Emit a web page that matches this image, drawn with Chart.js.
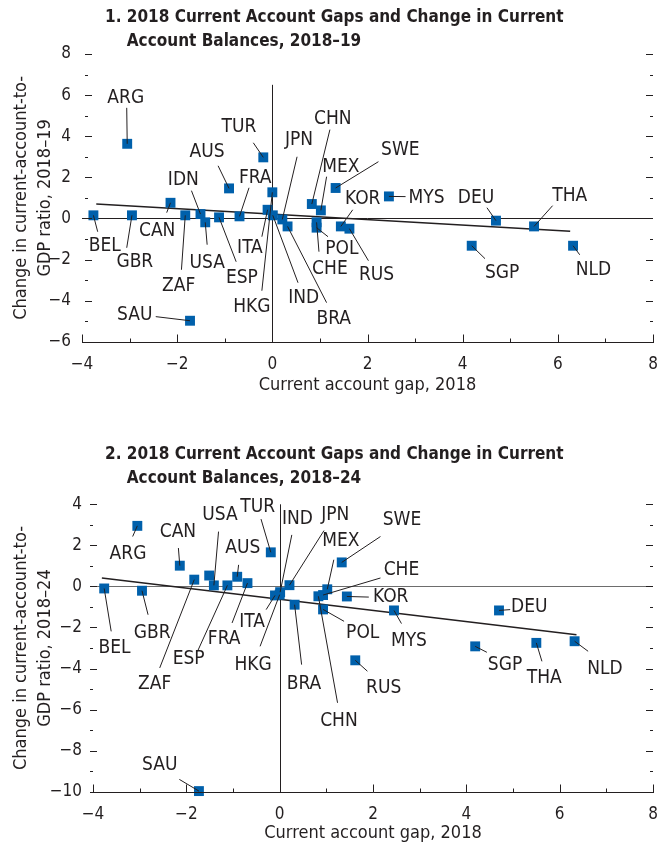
<!DOCTYPE html>
<html>
<head>
<meta charset="utf-8">
<script src="https://cdn.jsdelivr.net/npm/chart.js@4.4.0/dist/chart.umd.min.js"></script>
<style>
  html, body { margin: 0; padding: 0; background: #fff; }
  .panel { width: 660px; height: 425px; }
  canvas { display: block; }
</style>
</head>
<body>
<div class="panel"><canvas id="chart1" width="660" height="425"></canvas></div>
<div class="panel"><canvas id="chart2" width="660" height="425"></canvas></div>
<script>
// --- data ---
const countries = ['ARG','AUS','BEL','BRA','CAN','CHE','CHN','DEU','ESP','FRA','GBR','HKG','IDN','IND','ITA',
                   'JPN','KOR','MEX','MYS','NLD','POL','RUS','SAU','SGP','SWE','THA','TUR','USA','ZAF'];
// current account gap, 2018 (x, same in both panels)
const gap2018 = [-3.05, -0.91, -3.76, 0.32, -2.14, 0.93, 0.83, 4.70, -1.12, -0.69, -2.95, 0.00, -1.51, 0.01, -0.10,
                 0.21, 1.44, 1.02, 2.45, 6.32, 0.93, 1.62, -1.73, 4.19, 1.33, 5.50, -0.19, -1.41, -1.83];
// change in CA/GDP, 2018-19
const change1819 = [3.63, 1.46, 0.15, -0.39, 0.76, -0.19, 0.70, -0.11, 0.05, 0.10, 0.15, 1.27, 0.21, 0.15, 0.42,
                    -0.05, -0.39, 0.39, 1.07, -1.33, -0.45, -0.50, -4.98, -1.33, 1.48, -0.39, 2.97, -0.19, 0.15];
// change in CA/GDP, 2018-24
const change1824 = [2.95, 0.47, -0.10, -0.89, 1.01, -0.42, -0.48, -1.17, 0.05, 0.16, -0.21, -0.40, 0.53, -0.28, -0.44,
                    0.06, -0.49, -0.14, -1.17, -2.67, -1.12, -3.60, -9.97, -2.92, 1.17, -2.75, 1.66, 0.05, 0.33];
// fitted lines (end points)
const fitX1819 = [-3.70, 6.26];
const fitY1819 = [0.70, -0.63];
const fitX1824 = [-3.81, 6.36];
const fitY1824 = [0.41, -2.35];

// label placement: [labelX, labelY, leaderX, leaderY] in data units
const labelSpots1819 = {
  ARG: [-3.08, 5.87, -3.06, 5.38], TUR: [-0.70, 4.46, -0.40, 3.68], AUS: [-1.37, 3.25, -1.14, 2.56],
  IDN: [-1.87, 1.88, -1.70, 1.35], FRA: [-0.36, 1.98, -0.49, 1.49], JPN: [0.56, 3.83, 0.52, 3.00],
  CHN: [1.27, 4.85, 1.21, 4.32], MEX: [1.44, 2.52, 1.14, 2.03], SWE: [2.69, 3.34, 2.23, 2.76],
  KOR: [1.90, 0.96, 1.69, 0.42], MYS: [3.24, 1.01, 2.80, 1.06], DEU: [4.28, 1.01, 4.51, 0.52],
  THA: [6.25, 1.10, 5.89, 0.62], NLD: [6.75, -2.50, 6.46, -1.77], SGP: [4.83, -2.64, 4.47, -1.96],
  RUS: [2.19, -2.74, 2.02, -2.06], POL: [1.46, -1.47, 1.17, -0.89], CHE: [1.21, -2.45, 0.98, -1.62],
  BRA: [1.29, -4.88, 1.14, -4.10], IND: [0.66, -3.86, 0.54, -3.13], HKG: [-0.43, -4.30, -0.22, -3.52],
  ITA: [-0.47, -1.43, -0.22, -0.89], ESP: [-0.64, -2.89, -0.76, -2.11], USA: [-1.37, -2.16, -1.37, -1.28],
  ZAF: [-1.97, -3.30, -1.91, -2.50], CAN: [-2.42, -0.60, -2.22, 0.28], GBR: [-2.89, -2.11, -3.06, -1.43],
  BEL: [-3.52, -1.33, -3.67, -0.65], SAU: [-2.89, -4.69, -2.45, -4.78]
};
const labelSpots1824 = {
  ARG: [-3.25, 1.59, -3.15, 2.43], CAN: [-2.18, 2.63, -2.17, 1.87], USA: [-1.28, 3.49, -1.31, 2.67],
  TUR: [-0.47, 3.86, -0.40, 3.28], AUS: [-0.79, 1.87, -0.88, 1.05], IND: [0.38, 3.28, 0.26, 2.51],
  JPN: [1.19, 3.49, 0.95, 2.72], MEX: [1.31, 2.19, 1.16, 1.30], SWE: [2.62, 3.24, 2.16, 2.43],
  CHE: [2.61, 0.78, 2.16, 0.41], KOR: [2.38, -0.52, 1.91, -0.52], DEU: [5.35, -1.00, 4.94, -1.13],
  POL: [1.78, -2.27, 1.38, -1.70], MYS: [2.77, -2.67, 2.61, -1.81], BRA: [0.52, -4.78, 0.47, -3.81],
  RUS: [2.23, -4.94, 1.88, -4.13], CHN: [1.27, -6.56, 1.24, -5.67], SGP: [4.83, -3.81, 4.44, -3.21],
  THA: [5.67, -4.45, 5.62, -3.65], NLD: [6.97, -4.02, 6.61, -3.16], BEL: [-3.54, -3.00, -3.61, -2.19],
  GBR: [-2.73, -2.27, -2.82, -1.38], ESP: [-1.95, -3.53, -1.76, -3.16], ZAF: [-2.68, -4.78, -2.57, -3.97],
  FRA: [-1.19, -2.56, -1.02, -1.78], ITA: [-0.59, -1.75, -0.29, -1.13], HKG: [-0.57, -3.81, -0.42, -2.92],
  SAU: [-2.57, -8.72, -2.15, -9.40]
};

const FONT = '"Liberation Sans Narrow", "DejaVu Sans Condensed", "Arial Narrow", sans-serif';
const INK = '#231f20';
const BLUE = '#0060ab';

const fmt = v => (v < 0 ? '\u2212' + Math.abs(v) : String(v));

// draws zero lines, inward ticks, titles and the country labels
const decorPlugin = {
  id: 'decor',
  beforeDatasetsDraw(chart, args, o) {
    const ctx = chart.ctx, xs = chart.scales.x, ys = chart.scales.y, a = chart.chartArea;
    ctx.save();
    ctx.lineWidth = 1;
    // horizontal zero line
    ctx.strokeStyle = o.zeroColor;
    ctx.beginPath();
    const y0 = Math.round(ys.getPixelForValue(0)) + 0.5;
    ctx.moveTo(a.left, y0); ctx.lineTo(a.right, y0);
    ctx.stroke();
    // vertical zero line
    ctx.strokeStyle = INK;
    const x0 = Math.round(xs.getPixelForValue(0)) + 0.5;
    ctx.beginPath();
    ctx.moveTo(x0, ys.getPixelForValue(o.vTop)); ctx.lineTo(x0, a.bottom);
    ctx.stroke();
    ctx.restore();
  },
  afterDatasetsDraw(chart, args, o) {
    const ctx = chart.ctx, xs = chart.scales.x, ys = chart.scales.y, a = chart.chartArea;
    ctx.save();
    ctx.strokeStyle = INK;
    ctx.lineWidth = 1;

    // bottom axis line + upward ticks
    const yb = Math.round(a.bottom) + 0.5;
    ctx.beginPath();
    ctx.moveTo(a.left, yb); ctx.lineTo(a.right + 1, yb);
    for (let v = xs.min; v <= xs.max; v++) {
      const px = Math.round(xs.getPixelForValue(v)) + 0.5;
      ctx.moveTo(px, yb); ctx.lineTo(px, yb - (v % 2 === 0 ? 8 : 4));
    }
    // left and right inward ticks
    for (let v = ys.min; v <= ys.max; v++) {
      const py = Math.round(ys.getPixelForValue(v)) + 0.5;
      const len = v % 2 === 0 ? 7 : 3;
      ctx.moveTo(a.left + o.leftInset, py); ctx.lineTo(a.left + o.leftInset + len, py);
      ctx.moveTo(a.right, py); ctx.lineTo(a.right - len, py);
    }
    ctx.stroke();

    // country labels with leader lines
    ctx.fillStyle = INK;
    ctx.font = '19px ' + FONT;
    ctx.textAlign = 'center';
    ctx.textBaseline = 'middle';
    countries.forEach((c, i) => {
      const spot = o.spots[c];
      if (!spot) return;
      const px = xs.getPixelForValue(gap2018[i]);
      const py = ys.getPixelForValue(o.values[i]);
      ctx.beginPath();
      ctx.moveTo(xs.getPixelForValue(spot[2]), ys.getPixelForValue(spot[3]));
      ctx.lineTo(px, py);
      ctx.stroke();
      ctx.fillText(c, xs.getPixelForValue(spot[0]), ys.getPixelForValue(spot[1]));
    });

    // panel title with hanging indent
    ctx.textAlign = 'left';
    ctx.font = 'bold 17px ' + FONT;
    const num = o.title[0];
    ctx.fillText(num + ' ' + o.title[1], o.titleX, o.titleY);
    const indent = ctx.measureText(num + ' ').width;
    ctx.fillText(o.title[2], o.titleX + indent, o.titleY + 24);

    // axis titles
    ctx.font = '18px ' + FONT;
    ctx.textAlign = 'center';
    ctx.fillText('Current account gap, 2018', (a.left + a.right) / 2, o.xTitleY);
    const cy = (a.top + a.bottom) / 2;
    ctx.save();
    ctx.translate(21, cy);
    ctx.rotate(-Math.PI / 2);
    ctx.fillText('Change in current-account-to-', 0, 0);
    ctx.fillText(o.yTitle2, 0, 24);
    ctx.restore();

    ctx.restore();
  }
};

function makePanel(id, cfg) {
  const points = countries.map((c, i) => ({ x: gap2018[i], y: cfg.values[i] }));
  const fit = cfg.fitX.map((x, i) => ({ x, y: cfg.fitY[i] }));
  return new Chart(document.getElementById(id), {
    type: 'scatter',
    data: {
      datasets: [
        {
          data: points,
          pointStyle: 'rect',
          pointRadius: 7,
          pointHoverRadius: 7,
          backgroundColor: BLUE,
          borderWidth: 0,
          clip: false
        },
        {
          data: fit,
          showLine: true,
          borderColor: INK,
          borderWidth: 1.5,
          pointRadius: 0,
          fill: false
        }
      ]
    },
    options: {
      responsive: false,
      animation: false,
      layout: { padding: { top: cfg.padTop, right: cfg.padRight, left: 0, bottom: 0 } },
      scales: {
        x: {
          type: 'linear',
          min: -4, max: 8,
          grid: { display: false },
          border: { display: false },
          ticks: {
            stepSize: 1,
            autoSkip: false,
            maxRotation: 0,
            padding: 5,
            color: INK,
            font: { family: FONT, size: 17 },
            callback: v => (Math.round(v) % 2 === 0 ? fmt(Math.round(v)) : '')
          },
          afterFit: s => { s.height = cfg.xHeight; s.paddingLeft = 0; s.paddingRight = 0; }
        },
        y: {
          type: 'linear',
          min: cfg.yMin, max: cfg.yMax,
          grid: { display: false },
          border: { display: false },
          ticks: {
            stepSize: 1,
            autoSkip: false,
            padding: 3,
            color: INK,
            font: { family: FONT, size: 17 },
            callback: v => (Math.round(v) % 2 === 0 ? fmt(Math.round(v)) : '')
          },
          afterFit: s => { s.width = cfg.yWidth; s.paddingTop = 0; s.paddingBottom = 0; }
        }
      },
      plugins: {
        legend: { display: false },
        tooltip: { enabled: false },
        decor: {
          spots: cfg.spots,
          values: cfg.values,
          zeroColor: cfg.zeroColor,
          vTop: cfg.vTop,
          leftInset: cfg.leftInset,
          title: cfg.title,
          titleX: 105,
          titleY: cfg.titleY,
          xTitleY: cfg.xTitleY,
          yTitle2: cfg.yTitle2
        }
      }
    },
    plugins: [decorPlugin]
  });
}

makePanel('chart1', {
  values: change1819, fitX: fitX1819, fitY: fitY1819, spots: labelSpots1819,
  yMin: -6, yMax: 8, vTop: 6.5,
  padTop: 54, padRight: 4, xHeight: 83.3, yWidth: 82, leftInset: 3,
  zeroColor: INK,
  title: ['1.', '2018 Current Account Gaps and Change in Current', 'Account Balances, 2018\u201319'],
  titleY: 18, xTitleY: 385,
  yTitle2: 'GDP ratio, 2018\u201319'
});

makePanel('chart2', {
  values: change1824, fitX: fitX1824, fitY: fitY1824, spots: labelSpots1824,
  yMin: -10, yMax: 4, vTop: 4,
  padTop: 79.3, padRight: 5, xHeight: 58.3, yWidth: 93, leftInset: -3,
  zeroColor: '#6d6d6d',
  title: ['2.', '2018 Current Account Gaps and Change in Current', 'Account Balances, 2018\u201324'],
  titleY: 30, xTitleY: 408,
  yTitle2: 'GDP ratio, 2018\u201324'
});
</script>
</body>
</html>
